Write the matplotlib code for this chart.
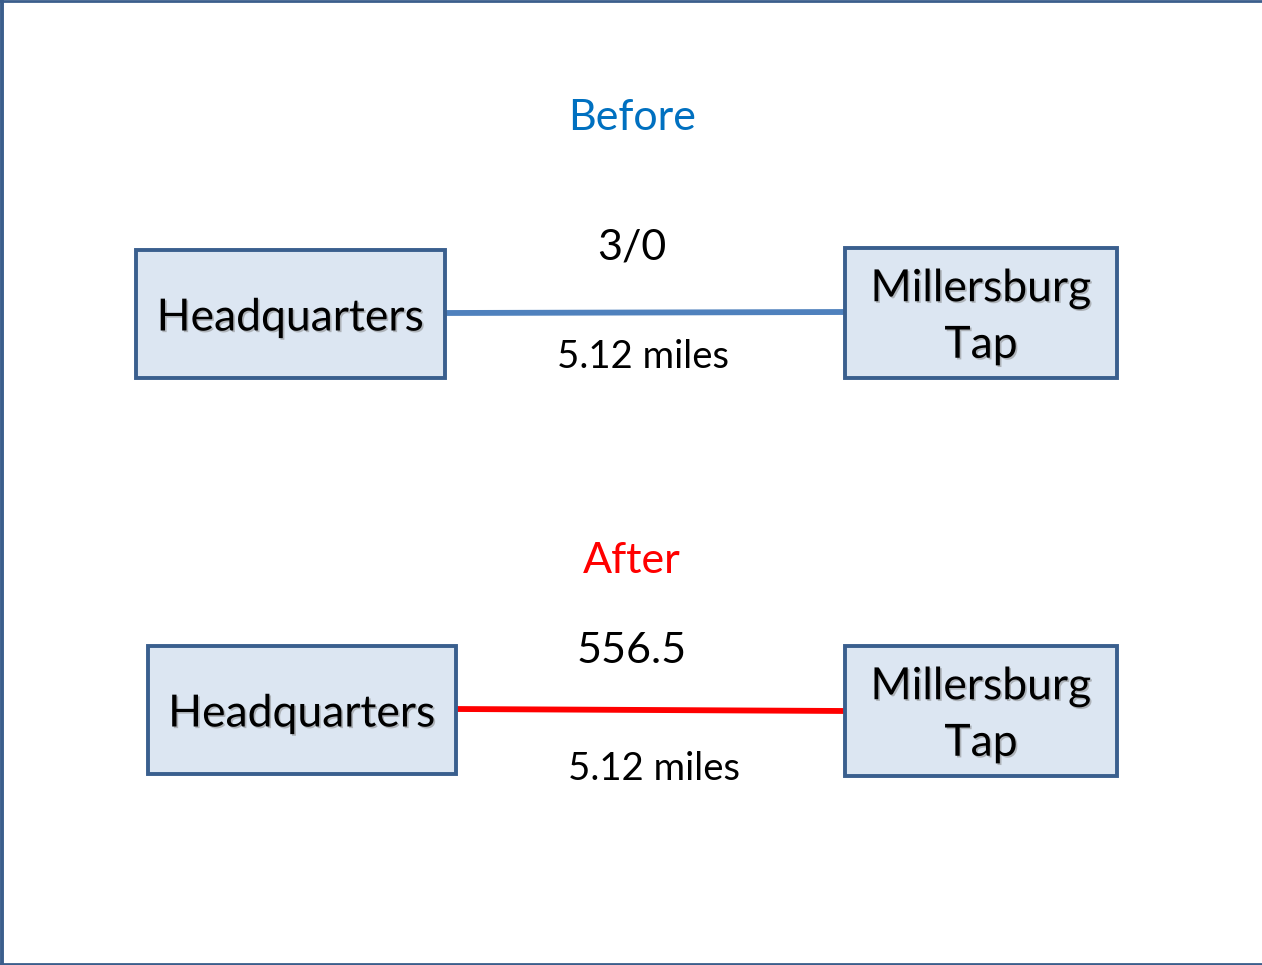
#Before / After line diagram
import matplotlib.pyplot as plt
import matplotlib.patheffects as pe
from matplotlib.patches import Rectangle

plt.rcParams['font.family'] = ['Lato', 'DejaVu Sans']

# data
panels = ["Before", "After"]
panel_colors = ["#0070C0", "#FF0000"]
line_colors = ["#4F81BD", "#FF0000"]
ratings = ["3/0", "556.5"]
lengths = ["5.12 miles", "5.12 miles"]
left_names = ["Headquarters", "Headquarters"]
right_names = ["Millersburg\nTap", "Millersburg\nTap"]

# layout (pixel coords, y down)
title_y = [118, 561]
left_box = [(136, 250, 309, 128), (148, 646, 308, 128)]
right_box = [(845, 248, 272, 130), (845, 646, 272, 130)]
line_y = [(313, 312), (709, 711)]
rating_y = [248, 651]
length_xy = [(643, 357), (654, 769)]

fig = plt.figure(figsize=(12.62, 9.65), dpi=100)
ax = fig.add_axes([0, 0, 1, 1])
ax.set_xlim(0, 1262)
ax.set_ylim(965, 0)
ax.axis('off')

# frame
ax.plot([1.5, 1.5], [0, 965], color="#3B5E8C", lw=2.8)
ax.plot([0, 1262], [1, 1], color="#3B5E8C", lw=2.0)
ax.plot([0, 1262], [963.5, 963.5], color="#3B5E8C", lw=2.0)

shadow = [pe.withSimplePatchShadow(offset=(1.2, -1.2), shadow_rgbFace="#808080", alpha=0.5)]

def box(x, y, w, h, txt):
    ax.add_patch(Rectangle((x, y), w, h, facecolor="#DCE6F2", edgecolor="#3A5F8E", lw=2.8, zorder=3))
    ax.text(x + w/2, y + h/2 + 4, txt, ha="center", va="center", fontsize=32,
            linespacing=1.47, zorder=4, path_effects=shadow)

for i in range(len(panels)):
    ax.text(632, title_y[i], panels[i], color=panel_colors[i], fontsize=31, ha="center", va="center")
    lx, ly, lw_, lh = left_box[i]
    rx, ry, rw, rh = right_box[i]
    ax.plot([lx + lw_, rx], list(line_y[i]), color=line_colors[i], lw=4.2, zorder=2, solid_capstyle="butt")
    box(lx, ly, lw_, lh, left_names[i])
    box(rx, ry, rw, rh, right_names[i])
    ax.text(632, rating_y[i], ratings[i], fontsize=31, ha="center", va="center")
    ax.text(length_xy[i][0], length_xy[i][1], lengths[i], fontsize=27.5, ha="center", va="center")

fig.savefig("out.png", dpi=100)
